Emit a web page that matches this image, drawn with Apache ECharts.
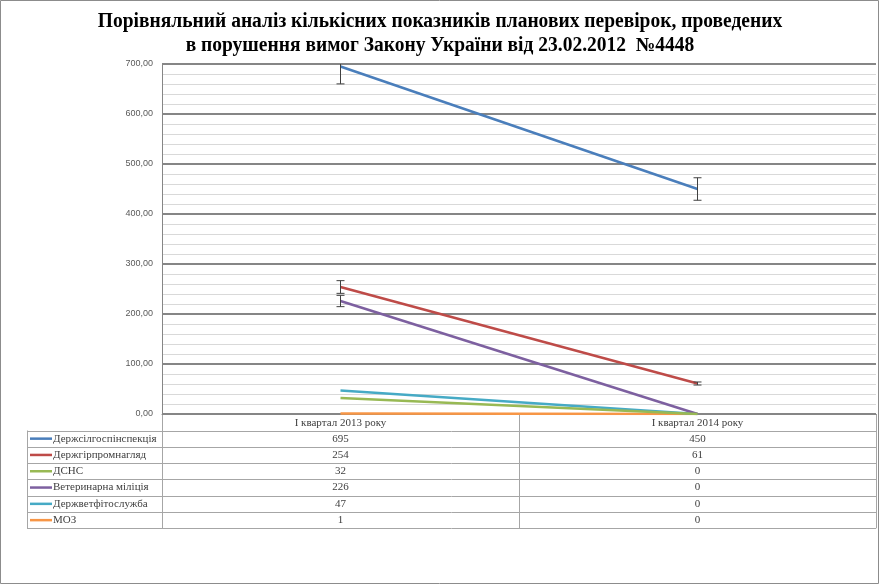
<!DOCTYPE html>
<html><head><meta charset="utf-8">
<script src="https://cdn.jsdelivr.net/npm/echarts@6/dist/echarts.min.js"></script>
<style>html,body{margin:0;padding:0;background:#fff}#c{width:880px;height:585px}</style>
</head><body><div id="c"></div>
<script>
var categories = ['I квартал 2013 року', 'I квартал 2014 року'];
var seriesNames = ['Держсілгоспінспекція', 'Держгірпромнагляд', 'ДСНС', 'Ветеринарна міліція', 'Держветфітослужба', 'МОЗ'];
var v_derzhsilhosp = [695, 450];
var v_derzhhirprom = [254, 61];
var v_dsns = [32, 0];
var v_vetmilicia = [226, 0];
var v_derzhvetfito = [47, 0];
var v_moz = [1, 0];
// error amounts (±)
var e_derzhsilhosp = [34.75, 22.5];
var e_derzhhirprom = [12.7, 3.05];
var e_dsns = [0, 0];
var e_vetmilicia = [11.3, 0];
var e_derzhvetfito = [0, 0];
var e_moz = [0, 0];
var yTicks = [0, 100, 200, 300, 400, 500, 600, 700];

var values = [v_derzhsilhosp, v_derzhhirprom, v_dsns, v_vetmilicia, v_derzhvetfito, v_moz];
var errors = [e_derzhsilhosp, e_derzhhirprom, e_dsns, e_vetmilicia, e_derzhvetfito, e_moz];
var colors = ['#4A7EBB', '#BE4B48', '#98B954', '#7D60A0', '#46AAC5', '#F79646'];

var chart = echarts.init(document.getElementById('c'), null, {renderer: 'canvas'});

var G = {left: 162, right: 876, top: 64, bottom: 414};
var series = [];
values.forEach(function (vals, i) {
  series.push({
    type: 'line', name: seriesNames[i], data: vals, symbol: 'none',
    lineStyle: {color: colors[i], width: 2.5}, itemStyle: {color: colors[i]},
    z: 3 + (values.length - i) * 0.01
  });
});
var errData = [];
values.forEach(function (vals, i) {
  vals.forEach(function (v, j) {
    if (errors[i][j] > 0) errData.push([j, v - errors[i][j], v + errors[i][j]]);
  });
});
series.push({
  type: 'custom', data: errData, clip: true, z: 5,
  renderItem: function (params, api) {
    var lo = api.coord([api.value(0), api.value(1)]);
    var hi = api.coord([api.value(0), api.value(2)]);
    var w = 4;
    var st = {stroke: '#404040', lineWidth: 1};
    return {type: 'group', children: [
      {type: 'line', shape: {x1: lo[0], y1: lo[1], x2: hi[0], y2: hi[1]}, style: st},
      {type: 'line', shape: {x1: lo[0] - w, y1: lo[1], x2: lo[0] + w, y2: lo[1]}, style: st},
      {type: 'line', shape: {x1: hi[0] - w, y1: hi[1], x2: hi[0] + w, y2: hi[1]}, style: st}
    ]};
  }
});

// data table graphics
var tbl = [];
var lineCol = '#a6a6a6';
var headerBottom = 430.5, rowH = 16.3;
var colW = (G.right - G.left) / categories.length;
var tableBottom = headerBottom + rowH * seriesNames.length;
for (var r = 0; r <= seriesNames.length; r++) {
  var y = Math.round(headerBottom + rowH * r) + 0.5;
  tbl.push({type: 'line', shape: {x1: 27, y1: y, x2: G.right, y2: y}, style: {stroke: lineCol, lineWidth: 1}, silent: true});
}
tbl.push({type: 'line', shape: {x1: 27.5, y1: headerBottom, x2: 27.5, y2: tableBottom}, style: {stroke: lineCol, lineWidth: 1}});
for (var c = 0; c <= categories.length; c++) {
  var x = Math.round(G.left + colW * c) + 0.5;
  tbl.push({type: 'line', shape: {x1: x, y1: G.bottom, x2: x, y2: tableBottom}, style: {stroke: lineCol, lineWidth: 1}});
}
seriesNames.forEach(function (name, i) {
  var cy = headerBottom + rowH * (i + 0.5);
  tbl.push({type: 'line', shape: {x1: 30, y1: cy, x2: 52, y2: cy}, style: {stroke: colors[i], lineWidth: 2.5}});
  tbl.push({type: 'text', x: 53, y: cy, style: {text: name, fontFamily: 'Liberation Serif', fontSize: 11, fill: '#404040', textVerticalAlign: 'middle', textAlign: 'left'}});
  values[i].forEach(function (v, j) {
    tbl.push({type: 'text', x: G.left + colW * (j + 0.5), y: cy, style: {text: String(v), fontFamily: 'Liberation Serif', fontSize: 11, fill: '#404040', textVerticalAlign: 'middle', textAlign: 'center'}});
  });
});
tbl.push({type: 'rect', shape: {x: 0.5, y: 0.5, width: 878, height: 583}, style: {fill: 'none', stroke: '#8c8c8c', lineWidth: 1}});
tbl.push({type: 'text', x: 440, y: 10, scaleX: 0.975, style: {
  text: 'Порівняльний аналіз кількісних показників планових перевірок, проведених\nв порушення вимог Закону України від 23.02.2012  №4448',
  fontFamily: 'Liberation Serif', fontWeight: 'bold', fontSize: 20, lineHeight: 24, fill: '#000',
  textAlign: 'center', textVerticalAlign: 'top'}});

chart.setOption({
  animation: false,
  backgroundColor: '#fff',
  grid: {left: G.left, right: 880 - G.right, top: G.top, bottom: 585 - G.bottom, containLabel: false},
  xAxis: {
    type: 'category', data: categories, boundaryGap: true,
    axisLine: {lineStyle: {color: '#868686', width: 1}},
    axisTick: {show: false},
    axisLabel: {fontFamily: 'Liberation Serif', fontSize: 11, color: '#404040', margin: 4, interval: 0},
    splitLine: {show: false}
  },
  yAxis: {
    type: 'value', min: yTicks[0], max: yTicks[yTicks.length - 1], interval: 100,
    axisLine: {show: true, lineStyle: {color: '#868686', width: 1}},
    axisTick: {show: false},
    axisLabel: {fontFamily: 'Liberation Sans', fontSize: 9, color: '#595959', margin: 9,
      formatter: function (v) { return v.toFixed(2).replace('.', ','); }},
    splitLine: {show: true, lineStyle: {color: '#868686', width: 2}},
    minorTick: {show: false, splitNumber: 5},
    minorSplitLine: {show: true, lineStyle: {color: '#d9d9d9', width: 1}}
  },
  series: series,
  graphic: {elements: tbl}
});
</script></body></html>
